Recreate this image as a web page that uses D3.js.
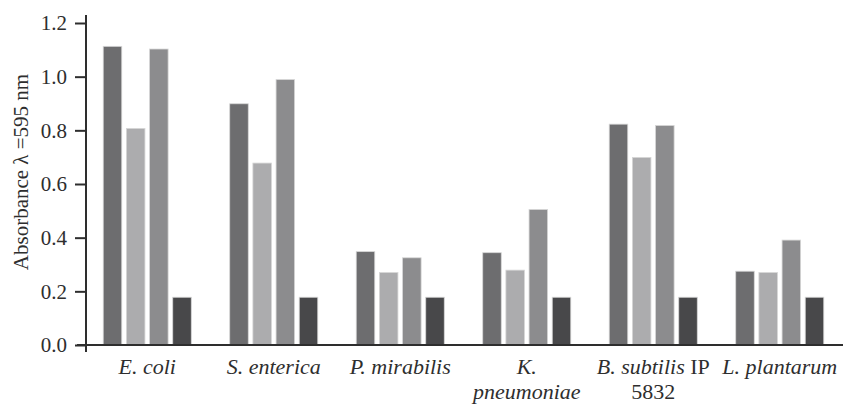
<!DOCTYPE html>
<html>
<head>
<meta charset="utf-8">
<script src="https://cdn.jsdelivr.net/npm/d3@7"></script>
<style>
  html, body { margin: 0; padding: 0; background: #fff; }
  svg { display: block; }
  text { font-family: "Liberation Serif", "Times New Roman", serif; fill: #2e2e2e; }
</style>
</head>
<body>
<svg id="chart" width="843" height="405"></svg>
<script>
// ---- data ----
const categories = ["E. coli", "S. enterica", "P. mirabilis", "K. pneumoniae", "B. subtilis IP 5832", "L. plantarum"];
// label lines: each line is a list of [text, italic?]
const categoryLabelLines = [
  [[["E. coli", true]]],
  [[["S. enterica", true]]],
  [[["P. mirabilis", true]]],
  [[["K.", true]], [["pneumoniae", true]]],
  [[["B. subtilis", true], [" IP", false]], [["5832", false]]],
  [[["L. plantarum", true]]]
];
const seriesNames = ["s1", "s2", "s3", "s4"];
const series1 = [1.113, 0.899, 0.348, 0.344, 0.823, 0.275];
const series2 = [0.807, 0.678, 0.270, 0.279, 0.699, 0.270];
const series3 = [1.103, 0.989, 0.325, 0.505, 0.818, 0.391];
const series4 = [0.178, 0.178, 0.178, 0.178, 0.178, 0.178];
const seriesColors = ["#6d6d6f", "#acacae", "#8c8c8e", "#48484a"];
const yTicks = [0.0, 0.2, 0.4, 0.6, 0.8, 1.0, 1.2];
const yLabel = "Absorbance \u03bb =595 nm";

// ---- build ----
const allSeries = [series1, series2, series3, series4];
const rows = categories.map((c, i) => ({
  cat: c,
  values: seriesNames.map((s, j) => ({ key: s, value: allSeries[j][i], idx: j }))
}));

const svg = d3.select("#chart");
const axisX = 86, baseY = 345, topY = 23;

const x0 = d3.scaleBand().domain(categories).range([84, 843])
  .paddingInner(0.304).paddingOuter(0.152);
const x1 = d3.scaleBand().domain(seriesNames).range([0, x0.bandwidth()])
  .paddingInner(0.2).paddingOuter(0);
const y = d3.scaleLinear().domain([0, 1.2]).range([baseY, topY]);
const color = d3.scaleOrdinal().domain(seriesNames).range(seriesColors);

// bars
const groups = svg.append("g").selectAll("g").data(rows).join("g")
  .attr("transform", d => `translate(${x0(d.cat)},0)`);
groups.selectAll("rect").data(d => d.values).join("rect")
  .attr("x", d => x1(d.key))
  .attr("y", d => y(d.value))
  .attr("width", x1.bandwidth())
  .attr("height", d => baseY - y(d.value))
  .attr("fill", d => color(d.key))
  .attr("stroke", "#d6d6d6")
  .attr("stroke-width", 0.8);

// y axis
const yAxis = d3.axisLeft(y).tickValues(yTicks).tickFormat(d3.format(".1f"))
  .tickSize(11).tickSizeOuter(0).tickPadding(8);
const gy = svg.append("g").attr("transform", `translate(${axisX},0)`).call(yAxis);
gy.select(".domain").remove();
gy.selectAll(".tick line").attr("stroke", "#2e2e2e").attr("stroke-width", 2);
gy.selectAll(".tick text")
  .style("font-family", '"Liberation Serif", "Times New Roman", serif')
  .style("font-size", "21px").attr("fill", "#2e2e2e");

// axis lines
svg.append("line").attr("x1", axisX).attr("x2", axisX).attr("y1", 15).attr("y2", 352)
  .attr("stroke", "#2e2e2e").attr("stroke-width", 2);
svg.append("line").attr("x1", 77).attr("x2", 843).attr("y1", baseY).attr("y2", baseY)
  .attr("stroke", "#2e2e2e").attr("stroke-width", 2);

// x labels
const xl = svg.append("g");
categories.forEach((c, i) => {
  const cx = x0(c) + x0.bandwidth() / 2;
  categoryLabelLines[i].forEach((line, li) => {
    const t = xl.append("text").attr("text-anchor", "middle")
      .attr("x", cx).attr("y", 374 + li * 24.5)
      .style("font-size", "22px");
    line.forEach(seg => {
      t.append("tspan").text(seg[0])
        .style("font-style", seg[1] ? "italic" : "normal");
    });
  });
});

// y label
svg.append("text")
  .attr("transform", "translate(28,172) rotate(-90)")
  .attr("text-anchor", "middle")
  .style("font-size", "21px")
  .text(yLabel);
</script>
</body>
</html>
